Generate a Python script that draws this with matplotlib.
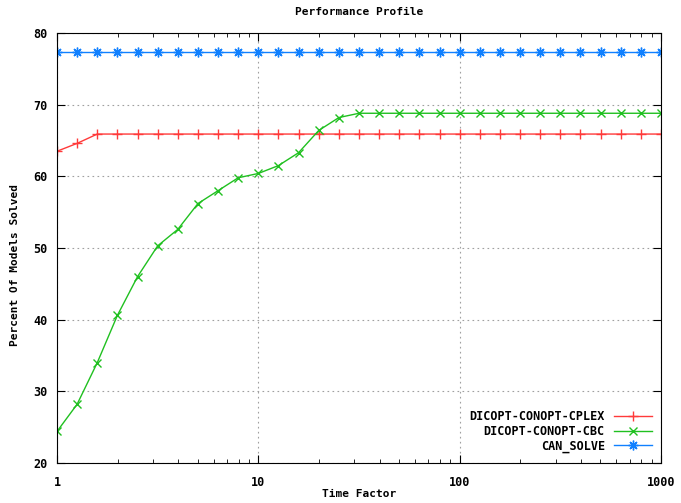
import numpy as np
import matplotlib.pyplot as plt
from matplotlib.ticker import FixedLocator, FixedFormatter, LogLocator, NullFormatter

plt.rcParams['font.family'] = 'DejaVu Sans Mono'
plt.rcParams['font.weight'] = 'bold'

# time factors: 10 steps per decade, 1 .. 1000
steps = list(range(31))
time_factor = [10 ** (k / 10) for k in steps]

cplex = [63.5, 64.6] + [65.9] * 29
cbc = [24.4, 28.2, 34.0, 40.6, 46.0, 50.3, 52.6, 56.2, 58.0, 59.8,
       60.4, 61.5, 63.3, 66.4, 68.2] + [68.8] * 16
can_solve = [77.3] * 31

labels = ["DICOPT-CONOPT-CPLEX", "DICOPT-CONOPT-CBC", "CAN_SOLVE"]
xticks = [1, 10, 100, 1000]
yticks = [20, 30, 40, 50, 60, 70, 80]

W, H = 681, 503
fig = plt.figure(figsize=(W / 100, H / 100), dpi=100)
ax = fig.add_axes([57 / W, 1 - 463 / H, 604 / W, 430 / H])

ax.plot(time_factor, cplex, color='#ff3a3a', lw=1, marker='+', ms=7, mew=1, label=labels[0])
ax.plot(time_factor, cbc, color='#20c020', lw=1, marker='x', ms=6, mew=1, label=labels[1])
ax.plot(time_factor, can_solve, color='#1080ff', lw=1, marker=(8, 2, 0), ms=7, mew=1, label=labels[2])

ax.set_xscale('log')
ax.set_xlim(1, 1000)
ax.set_ylim(20, 80)
ax.xaxis.set_major_locator(FixedLocator(xticks))
ax.xaxis.set_major_formatter(FixedFormatter([str(v) for v in xticks]))
ax.xaxis.set_minor_locator(LogLocator(base=10, subs=range(2, 10)))
ax.xaxis.set_minor_formatter(NullFormatter())
ax.set_yticks(yticks)
ax.tick_params(which='both', direction='in', top=True, right=True, labelsize=8.5)
ax.tick_params(axis='x', pad=9)
ax.tick_params(axis='y', pad=7)
ax.tick_params(which='major', length=6)
ax.tick_params(which='minor', length=3)
ax.grid(True, which='major', color='#a0a0a0', linestyle=(0, (1.5, 3)), lw=0.8)

fig.text(359 / W, 1 - 12 / H, "Performance Profile", fontsize=8, fontweight='bold',
         ha='center', va='center')
fig.text(359 / W, 1 - 494 / H, "Time Factor", fontsize=8, fontweight='bold',
         ha='center', va='center')
fig.text(15 / W, 1 - 265 / H, "Percent Of Models Solved", fontsize=8, fontweight='bold',
         ha='center', va='center', rotation=90)

ax.legend(loc='lower right', frameon=False, markerfirst=False, fontsize=8.5,
          handlelength=3.2, labelspacing=0.15, borderaxespad=0.1,
          bbox_to_anchor=(0.995, 0.01))

fig.savefig("out.png", dpi=100)
